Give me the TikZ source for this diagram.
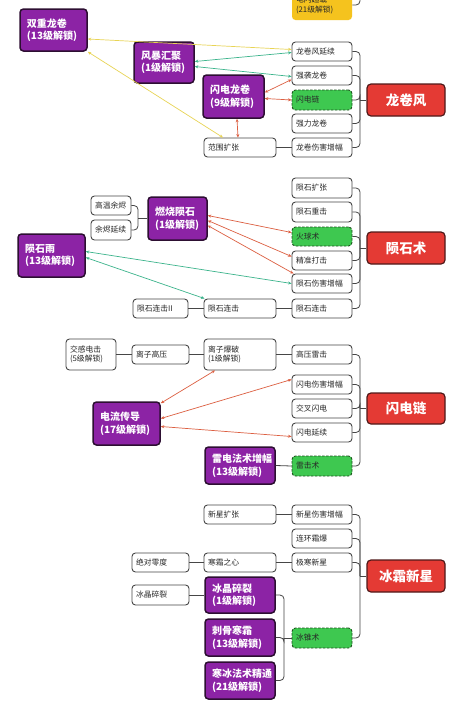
\documentclass[tikz,border=0pt]{standalone}
\usepackage{fontspec}
\setmainfont{Noto Sans CJK SC}
\usetikzlibrary{arrows.meta}
\definecolor{pfill}{RGB}{140,35,165}
\definecolor{pbord}{RGB}{45,15,50}
\definecolor{rfill}{RGB}{228,58,52}
\definecolor{rbord}{RGB}{80,25,25}
\definecolor{gfill}{RGB}{62,200,80}
\definecolor{gbord}{RGB}{30,80,30}
\definecolor{yfill}{RGB}{245,195,30}
\definecolor{wbord}{RGB}{70,70,70}
\definecolor{yline}{RGB}{232,212,85}
\definecolor{tline}{RGB}{60,180,140}
\definecolor{oline}{RGB}{220,95,65}
\definecolor{txt}{RGB}{40,40,40}
\newcommand{\bx}[7]{%
  \pgfmathsetmacro\bw{#5-#3}\pgfmathsetmacro\bh{#6-#4}%
  \pgfmathsetmacro\btw{#5-#3-8}\pgfmathsetmacro\btp{#5-#3-14}%
  \node[#2, minimum width=\bw pt, minimum height=\bh pt] (#1) at ({(#3+#5)/2},{(#4+#6)/2}) {#7};}
\tikzset{
  wbox/.style={draw=wbord, fill=white, line width=0.9pt, rounded corners=3.5pt, inner xsep=4pt, inner ysep=0pt,
    text=txt, font=\fontsize{7.8}{9.5}\selectfont, align=left, text width=\btw pt},
  gbox/.style={wbox, draw=gbord, fill=gfill, dashed, dash pattern=on 2.5pt off 1.5pt},
  ybox/.style={wbox, draw=none, fill=yfill},
  pbox/.style={draw=pbord, fill=pfill, line width=1.5pt, rounded corners=3.5pt, inner xsep=7pt, inner ysep=0pt,
    text=white, font=\fontsize{10}{12.5}\selectfont\bfseries, align=left, text width=\btp pt},
  rbox/.style={draw=rbord, fill=rfill, line width=1.2pt, rounded corners=4pt, inner sep=0pt,
    text=white, font=\fontsize{13.5}{15}\selectfont\bfseries, align=center},
  con/.style={draw=wbord, line width=0.8pt},
  brk/.style={draw=wbord, line width=0.8pt, rounded corners=4pt},
  tip/.style={{Stealth[length=3.5pt,width=3pt]}-{Stealth[length=3.5pt,width=3pt]}, line width=0.7pt},
}
\begin{document}
\begin{tikzpicture}[x=1pt,y=-1pt]
\useasboundingbox (0,0) rectangle (455,710);
\fill[white] (0,0) rectangle (455,710);
% ---------- Tornado ----------
\bx{ylw}{ybox}{292}{-10}{352}{20}{电闪超载\\(21级解锁)}
\bx{tA}{wbox}{292}{42}{352}{61}{龙卷风延续}
\bx{tB}{wbox}{292}{66}{352}{85}{强袭龙卷}
\bx{tC}{gbox}{292}{90}{352}{110}{闪电链}
\bx{tD}{wbox}{292}{114}{352}{133}{强力龙卷}
\bx{tE}{wbox}{292}{138}{352}{157}{龙卷伤害增幅}
\bx{tF}{wbox}{204}{138}{276}{157}{范围扩张}
\bx{tR}{rbox}{367}{84}{445}{116}{龙卷风}
\bx{tP1}{pbox}{20}{9}{87}{51}{双重龙卷\\(13级解锁)}
\bx{tP2}{pbox}{134}{42}{194}{83}{风暴汇聚\\(1级解锁)}
\bx{tP3}{pbox}{203}{75}{264}{118}{闪电龙卷\\(9级解锁)}
\coordinate (topend) at (360,-6);
\draw[brk] (ylw.east) -| (topend);
\foreach \n in {tA,tB,tC,tD,tE}{\draw[brk] (\n.east) -| (360,100);}
\draw[con] (tR.west) -- (360,100);
\draw[con] (tF) -- (tE);
\draw[tip, yline] ([yshift=-9pt]tP1.east) -- ([yshift=2pt]tA.west);
\draw[tip, yline] (tP1.south east) -- ([xshift=-17pt]tF.north);
\draw[tip, tline] ([yshift=1pt]tP2.east) -- ([yshift=-1pt]tA.west);
\draw[tip, tline] ([yshift=-4pt]tP2.east) -- ([yshift=-1pt]tB.west);
\draw[tip, oline] ([yshift=4pt]tP3.east) -- ([yshift=-4pt]tB.west);
\draw[tip, oline] ([yshift=-2pt]tP3.east) -- (tC.west);
\draw[tip, oline] ([xshift=3.5pt]tP3.south) -- ([xshift=-2pt]tF.north);
% ---------- Meteor ----------
\bx{mA}{wbox}{292}{178}{352}{198}{陨石扩张}
\bx{mB}{wbox}{292}{202}{352}{222}{陨石重击}
\bx{mC}{gbox}{292}{227}{352}{246}{火球术}
\bx{mD}{wbox}{292}{251}{352}{270}{精准打击}
\bx{mE}{wbox}{292}{274}{352}{293}{陨石伤害增幅}
\bx{mF}{wbox}{292}{299}{352}{318}{陨石连击}
\bx{mR}{rbox}{367}{232}{445}{264}{陨石术}
\bx{mP1}{pbox}{148}{197}{207}{240}{燃烧陨石\\(1级解锁)}
\bx{mH}{wbox}{91}{196}{131}{215}{高温余烬}
\bx{mI}{wbox}{91}{220}{131}{240}{余烬延续}
\bx{mP2}{pbox}{18}{234}{85}{277}{陨石雨\\(13级解锁)}
\bx{mK}{wbox}{133}{299}{188}{318}{陨石连击II}
\bx{mL}{wbox}{204}{299}{276}{318}{陨石连击}
\foreach \n in {mA,mB,mC,mD,mE,mF}{\draw[brk] (\n.east) -| (360,248);}
\draw[con] (mR.west) -- (360,248);
\draw[brk] (mH.east) -| (138,218.5);
\draw[brk] (mI.east) -| (138,218.5);
\draw[con] (138,218.5) -- (mP1.west);
\draw[con] (mK) -- (mL);
\draw[con] (mL) -- (mF);
\draw[tip, oline] ([yshift=3pt]mP1.east) -- ([yshift=4pt]mC.west);
\draw[tip, oline] ([yshift=-2pt]mP1.east) -- ([yshift=4pt]mD.west);
\draw[tip, oline] ([yshift=-7pt]mP1.east) -- ([xshift=2pt]mE.north west);
\draw[tip, tline] ([yshift=4pt]mP2.east) -- (mE.west);
\draw[tip, tline] ([yshift=-2pt]mP2.east) -- ([xshift=1pt]mL.north west);
% ---------- Lightning ----------
\bx{lA}{wbox}{66}{339}{116}{370}{交感电击\\(5级解锁)}
\bx{lB}{wbox}{132}{345}{189}{364}{离子高压}
\bx{lC}{wbox}{204}{339}{276}{370}{离子爆破\\(1级解锁)}
\bx{lD}{wbox}{292}{345}{352}{364}{高压雷击}
\bx{lE}{wbox}{292}{375}{352}{394}{闪电伤害增幅}
\bx{lF}{wbox}{292}{399}{352}{418}{交叉闪电}
\bx{lG}{wbox}{292}{423}{352}{442}{闪电延续}
\bx{lH}{gbox}{292}{456}{352}{476}{雷击术}
\bx{lR}{rbox}{367}{393}{445}{424}{闪电链}
\bx{lP1}{pbox}{93}{402}{160}{445}{电流传导\\(17级解锁)}
\bx{lP2}{pbox}{205}{447}{275}{484}{雷电法术增幅\\(13级解锁)}
\foreach \n in {lD,lE,lF,lG,lH}{\draw[brk] (\n.east) -| (360,408.5);}
\draw[con] (lR.west) -- (360,408.5);
\draw[con] (lA) -- (lB);
\draw[con] (lB) -- (lC);
\draw[con] (lC) -- (lD);
\draw[con] (lP2.east) -- (lH.west);
\draw[tip, oline] ([xshift=-25pt]lC.south) -- ([yshift=-2pt]lP1.north east);
\draw[tip, oline] ([yshift=5pt]lE.west) -- ([yshift=5pt]lP1.east);
\draw[tip, oline] ([yshift=-4pt]lG.west) -- ([yshift=-3pt]lP1.east);
% ---------- Frost ----------
\bx{fA}{wbox}{204}{505}{276}{524}{新星扩张}
\bx{fB}{wbox}{292}{505}{352}{524}{新星伤害增幅}
\bx{fC}{wbox}{292}{529}{352}{548}{连环霜爆}
\bx{fD}{wbox}{132}{553}{189}{572}{绝对零度}
\bx{fE}{wbox}{204}{553}{276}{572}{寒霜之心}
\bx{fF}{wbox}{292}{553}{352}{572}{极寒新星}
\bx{fR}{rbox}{367}{560}{445}{592}{冰霜新星}
\bx{fG}{wbox}{132}{585}{189}{605}{冰晶碎裂}
\bx{fP1}{pbox}{205}{577}{275}{613}{冰晶碎裂\\(1级解锁)}
\bx{fP2}{pbox}{205}{619}{275}{656}{刺骨寒霜\\(13级解锁)}
\bx{fP3}{pbox}{205}{662}{275}{699}{寒冰法术精通\\(21级解锁)}
\bx{fH}{gbox}{292}{628}{352}{648}{冰锥术}
\foreach \n in {fB,fC,fF,fH}{\draw[brk] (\n.east) -| (360,576);}
\draw[con] (fR.west) -- (360,576);
\draw[con] (fA) -- (fB);
\draw[con] (fD) -- (fE);
\draw[con] (fE) -- (fF);
\draw[con] (fG.east) -- (fP1.west |- fG.east);
\foreach \n in {fP1,fP2,fP3}{\draw[brk] (\n.east) -| (284,638);}
\draw[con] (284,638) -- (fH.west);
\end{tikzpicture}
\end{document}
